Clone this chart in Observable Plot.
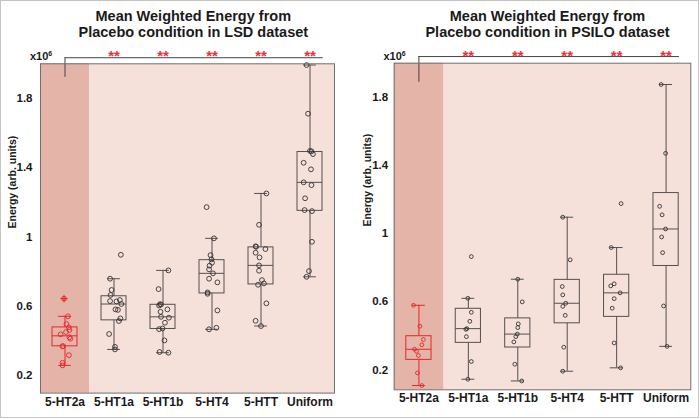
<!DOCTYPE html>
<html>
<head>
<meta charset="utf-8">
<script src="https://cdn.jsdelivr.net/npm/d3@7"></script>
<script src="https://cdn.jsdelivr.net/npm/@observablehq/plot@0.6"></script>
<style>
html, body { margin: 0; padding: 0; background: #ffffff; }
#fig { position: relative; width: 699px; height: 418px; overflow: hidden;
  font-family: "Liberation Sans", Arial, sans-serif; color: #1a1a1a; }
.panel { position: absolute; top: 0; }
.title { position: absolute; top: 7.7px; width: 340px; text-align: center;
  font-weight: bold; font-size: 14.5px; line-height: 16px; white-space: nowrap; }
.mult { position: absolute; top: 50.7px; font-weight: bold; font-size: 11px; line-height: 11px; white-space: nowrap; }
.mult sup { font-size: 7px; vertical-align: 4px; line-height: 0; }
#border { position: absolute; left: 0; top: 0; width: 699px; height: 418px; box-sizing: border-box;
  border: 1px solid #c4c4c4; pointer-events: none; }
</style>
</head>
<body>
<div id="fig"><div id="border"></div></div>
<script>
// ---------------- data ----------------
const categories = ["5-HT2a", "5-HT1a", "5-HT1b", "5-HT4", "5-HTT", "Uniform"];
const yTicks = [0.2, 0.6, 1, 1.4, 1.8];
const significant = ["5-HT1a", "5-HT1b", "5-HT4", "5-HTT", "Uniform"]; // vs 5-HT2a
const sigLabel = "**";
const yLabel = "Energy (arb. units)";
const multBase = "x10", multExp = "6";

const lsdTitle = ["Mean Weighted Energy from", "Placebo condition in LSD dataset"];
const psiloTitle = ["Mean Weighted Energy from", "Placebo condition in PSILO dataset"];

// values in units of 10^6
const lsdValues = [
  [0.645, 0.543, 0.498, 0.479, 0.464, 0.452, 0.439, 0.422, 0.414, 0.371, 0.370, 0.319, 0.275, 0.260],
  [0.898, 0.760, 0.695, 0.666, 0.637, 0.631, 0.629, 0.614, 0.583, 0.580, 0.531, 0.516, 0.441, 0.367, 0.352],
  [0.808, 0.700, 0.613, 0.611, 0.605, 0.583, 0.569, 0.540, 0.535, 0.506, 0.473, 0.469, 0.404, 0.337, 0.333],
  [1.173, 0.993, 0.896, 0.872, 0.852, 0.835, 0.814, 0.791, 0.760, 0.739, 0.681, 0.673, 0.577, 0.477, 0.468],
  [1.252, 1.071, 0.947, 0.944, 0.931, 0.910, 0.883, 0.837, 0.806, 0.752, 0.733, 0.725, 0.618, 0.517, 0.487],
  [1.993, 1.712, 1.497, 1.495, 1.479, 1.429, 1.391, 1.316, 1.300, 1.224, 1.156, 1.150, 0.973, 0.804, 0.771]
];
// horizontal scatter of each point (fraction of a category band)
const lsdJitter = [
  [-0.02, 0.06, 0.03, 0.08, 0.09, 0.02, -0.09, 0.09, 0.11, -0.04, -0.05, 0.08, -0.05, -0.05],
  [0.14, -0.08, -0.05, -0.07, 0.12, -0.08, 0.05, 0.15, 0.03, 0.08, 0.13, 0.10, -0.10, 0.02, 0.02],
  [0.11, -0.09, -0.06, -0.04, -0.08, 0.09, -0.05, -0.04, 0.12, 0.04, -0.01, -0.08, 0.03, -0.07, 0.11],
  [-0.11, 0.04, -0.03, -0.01, 0.00, -0.05, -0.06, 0.02, -0.06, 0.11, -0.09, -0.09, 0.11, 0.09, -0.06],
  [0.11, -0.04, -0.11, -0.10, 0.09, -0.11, -0.03, -0.04, -0.04, 0.02, 0.06, -0.06, 0.11, -0.11, 0.00],
  [-0.07, -0.04, 0.00, 0.03, 0.06, -0.13, 0.02, -0.13, 0.03, -0.10, -0.11, 0.04, 0.04, -0.02, -0.07]
];

const psiloValues = [
  [0.579, 0.456, 0.378, 0.347, 0.321, 0.309, 0.284, 0.182, 0.108],
  [0.865, 0.620, 0.538, 0.485, 0.442, 0.438, 0.395, 0.249, 0.145],
  [0.732, 0.599, 0.470, 0.448, 0.410, 0.395, 0.364, 0.233, 0.135],
  [1.096, 0.846, 0.689, 0.640, 0.591, 0.573, 0.520, 0.333, 0.192],
  [1.176, 0.918, 0.705, 0.693, 0.652, 0.618, 0.562, 0.358, 0.212],
  [1.875, 1.471, 1.160, 1.110, 1.027, 0.980, 0.888, 0.575, 0.338]
];
const psiloJitter = [
  [-0.11, 0.02, 0.09, 0.06, -0.09, -0.05, -0.01, -0.03, 0.06],
  [0.06, -0.01, 0.06, 0.03, -0.03, -0.05, -0.04, 0.06, -0.01],
  [0.00, 0.09, 0.01, 0.00, -0.01, -0.04, -0.08, -0.06, 0.08],
  [-0.09, 0.06, -0.10, -0.09, -0.03, -0.09, -0.04, -0.07, -0.09],
  [0.09, -0.11, -0.05, -0.12, 0.07, -0.05, -0.09, -0.05, 0.08],
  [-0.10, -0.01, -0.13, -0.08, -0.01, -0.09, -0.07, -0.05, 0.02]
];

// significance bracket levels (data units, x10^6)
const lsdBracket = { top: 2.035, drop: 1.922, stars: 2.042 };
const psiloBracket = { top: 2.039, drop: 1.888, stars: 2.040 };

// ---------------- styles ----------------
const LIGHT = "#f5e0da", DARK = "#e3b4a7", FRAME = "#6f6f6f";
const BOXC = "#555050", RED = "#e8262b", STAR = "#e8323a", DOTC = "#333333";
const BOX_HALF = 0.255, CAP_HALF = 0.13, BRACKET_OVER = 0.27;

function quantileM(sorted, p) {
  const n = sorted.length;
  const pos = p * n + 0.5;
  if (pos <= 1) return sorted[0];
  if (pos >= n) return sorted[n - 1];
  const lo = Math.floor(pos), f = pos - lo;
  return sorted[lo - 1] + f * (sorted[lo] - sorted[lo - 1]);
}

function makePanel(cfg) {
  const fig = document.getElementById("fig");
  const ci = c => categories.indexOf(c);
  const colorOf = i => (i === 0 ? RED : BOXC);
  const dotColorOf = i => (i === 0 ? RED : DOTC);

  const stats = cfg.values.map((arr, i) => {
    const s = arr.slice().sort(d3.ascending);
    const q1 = quantileM(s, 0.25), q3 = quantileM(s, 0.75), med = quantileM(s, 0.5);
    const iqr = q3 - q1;
    const hi = d3.max(s.filter(v => v <= q3 + 1.5 * iqr));
    const lo = d3.min(s.filter(v => v >= q1 - 1.5 * iqr));
    return { i, q1, q3, med, hi, lo, color: colorOf(i) };
  });
  const points = [];
  cfg.values.forEach((arr, i) => arr.forEach((v, k) => {
    const st = stats[i];
    points.push({ i, v, x: i + cfg.jitter[i][k], color: dotColorOf(i), out: v > st.hi || v < st.lo });
  }));
  const redOutliers = points.filter(p => p.out && p.i === 0);

  const plot = Plot.plot({
    width: cfg.width,
    height: 418,
    marginLeft: cfg.mLeft, marginRight: cfg.mRight, marginTop: cfg.mTop, marginBottom: cfg.mBottom,
    style: { fontFamily: "'Liberation Sans', Arial, sans-serif", fontWeight: "bold", fontSize: "12px",
             color: "#1a1a1a", background: "transparent", overflow: "visible" },
    x: { type: "linear", domain: [-0.5, categories.length - 0.5], axis: null },
    y: { domain: [cfg.yMin, 2.0], axis: null },
    marks: [
      Plot.frame({ fill: LIGHT, stroke: null }),
      Plot.rect([categories[0]], { x1: c => ci(c) - 0.5, x2: c => ci(c) + 0.5, fill: DARK }),
      // whiskers
      Plot.ruleX(stats, { x: "i", y1: "q3", y2: "hi", stroke: "color", strokeWidth: 1 }),
      Plot.ruleX(stats, { x: "i", y1: "lo", y2: "q1", stroke: "color", strokeWidth: 1 }),
      Plot.ruleY(stats, { y: "hi", x1: d => d.i - CAP_HALF, x2: d => d.i + CAP_HALF, stroke: "color", strokeWidth: 1 }),
      Plot.ruleY(stats, { y: "lo", x1: d => d.i - CAP_HALF, x2: d => d.i + CAP_HALF, stroke: "color", strokeWidth: 1 }),
      // boxes
      Plot.rect(stats, { x1: d => d.i - BOX_HALF, x2: d => d.i + BOX_HALF, y1: "q1", y2: "q3",
                         fill: "none", stroke: "color", strokeWidth: 1 }),
      Plot.ruleY(stats, { y: "med", x1: d => d.i - BOX_HALF, x2: d => d.i + BOX_HALF, stroke: "color", strokeWidth: 1 }),
      // points
      Plot.dot(points, { x: "x", y: "v", r: cfg.r, stroke: "color", fill: "none", strokeWidth: 0.9 }),
      Plot.dot(redOutliers, { x: "x", y: "v", r: cfg.r, symbol: "plus", stroke: RED, strokeWidth: 1.2 }),
      // axes
      Plot.axisX(d3.range(categories.length), { tickFormat: i => categories[i], tickSize: 0, tickPadding: 4,
                 fontSize: 12, fontWeight: "bold" }),
      Plot.axisY(yTicks, { tickFormat: d => String(d), tickSize: 0, tickPadding: cfg.tickPad,
                 fontSize: 11.5, fontWeight: "bold" }),
      Plot.text([yLabel], { frameAnchor: "left", text: d => d, rotate: -90, dx: cfg.labelDx,
                 fontSize: 10.5, fontWeight: "bold" }),
      // significance
      Plot.ruleY([cfg.bracket.top], { x1: ci(categories[0]), x2: ci(significant[significant.length - 1]) + BRACKET_OVER,
                 stroke: "#444", strokeWidth: 1 }),
      Plot.ruleX([ci(categories[0])], { y1: cfg.bracket.drop, y2: cfg.bracket.top, stroke: "#444", strokeWidth: 1 }),
      Plot.text(significant, { x: c => ci(c), y: () => cfg.bracket.stars, text: () => sigLabel, fill: STAR,
                 fontSize: 15, fontWeight: "bold", lineAnchor: "middle" }),
      Plot.frame({ stroke: FRAME, strokeWidth: 1 })
    ]
  });

  const wrap = document.createElement("div");
  wrap.className = "panel";
  wrap.style.left = cfg.left + "px";
  wrap.style.width = cfg.width + "px";
  wrap.style.height = "418px";
  wrap.appendChild(plot);
  fig.insertBefore(wrap, document.getElementById("border"));

  const t = document.createElement("div");
  t.className = "title";
  t.style.left = (cfg.titleCenter - 170) + "px";
  t.innerHTML = cfg.title.join("<br>");
  fig.insertBefore(t, document.getElementById("border"));

  const m = document.createElement("div");
  m.className = "mult";
  m.style.left = cfg.multX + "px";
  m.innerHTML = multBase + "<sup>" + multExp + "</sup>";
  fig.insertBefore(m, document.getElementById("border"));
}

makePanel({
  values: lsdValues, jitter: lsdJitter, title: lsdTitle, bracket: lsdBracket,
  left: 0, width: 350, mLeft: 40, mRight: 16, mTop: 63.3, mBottom: 25.4, yMin: 0.1,
  r: 2.4, tickPad: 8, labelDx: -28, titleCenter: 193.3, multX: 30
});
makePanel({
  values: psiloValues, jitter: psiloJitter, title: psiloTitle, bracket: psiloBracket,
  left: 350, width: 349, mLeft: 43.7, mRight: 8.7, mTop: 62.7, mBottom: 28.7, yMin: 0.083,
  r: 1.9, tickPad: 6, labelDx: -27, titleCenter: 547.5, multX: 383.5
});
</script>
</body>
</html>
